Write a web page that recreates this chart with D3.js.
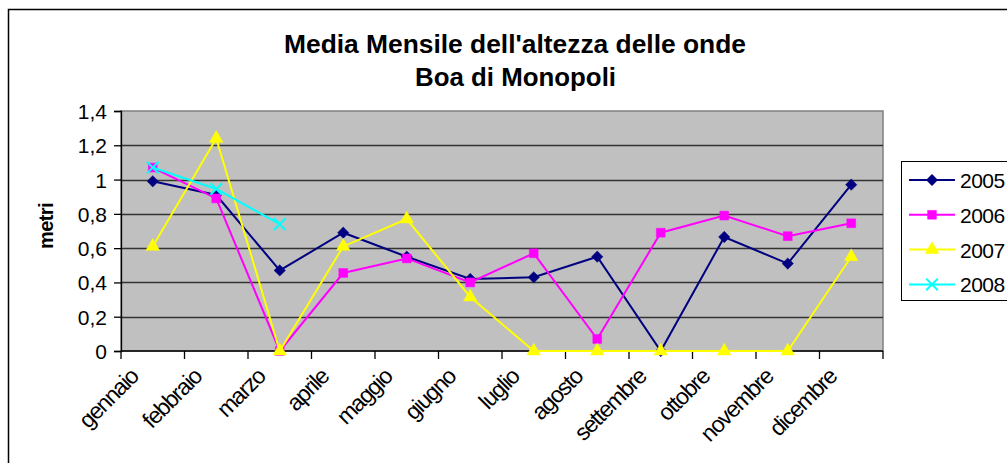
<!DOCTYPE html>
<html>
<head>
<meta charset="utf-8">
<script src="https://d3js.org/d3.v7.min.js"></script>
<style>
  body { margin: 0; background: #fff; }
  svg { display: block; }
</style>
</head>
<body>
<div id="chart"></div>
<script>
// MEDIA MENSILE ALTEZZA ONDE - BOA DI MONOPOLI

var months = ["gennaio", "febbraio", "marzo", "aprile", "maggio", "giugno",
    "luglio", "agosto", "settembre", "ottobre", "novembre", "dicembre"];

var years = ["2005", "2006", "2007", "2008"];

var values2005 = [0.99, 0.91, 0.47, 0.69, 0.55, 0.42, 0.43, 0.55, 0, 0.665, 0.51, 0.97];
var values2006 = [1.07, 0.89, 0, 0.455, 0.54, 0.40, 0.57, 0.07, 0.69, 0.79, 0.67, 0.745];
var values2007 = [0.61, 1.24, 0, 0.61, 0.77, 0.315, 0, 0, 0, 0, 0, 0.55];
var values2008 = [1.07, 0.945, 0.74, null, null, null, null, null, null, null, null, null];

var yTicks = [0, 0.2, 0.4, 0.6, 0.8, 1, 1.2, 1.4];

function linechart() {
    var width = 1007,
        height = 463;

    var plot = { left: 121, right: 883, top: 111, bottom: 351 };

    var svg = d3.select("#chart").append("svg")
        .attr("width", width)
        .attr("height", height)
        .style("font-family", "'Liberation Sans', Arial, sans-serif");

    // outer frame
    svg.append("rect")
        .attr("x", 8.5)
        .attr("y", 9.5)
        .attr("width", 1020)
        .attr("height", 470)
        .attr("fill", "white")
        .attr("stroke", "black")
        .attr("stroke-width", 1.5);

    var series = [
        { name: years[0], values: values2005, color: "#000080", symbol: "diamond" },
        { name: years[1], values: values2006, color: "#FF00FF", symbol: "square" },
        { name: years[2], values: values2007, color: "#FFFF00", symbol: "triangle" },
        { name: years[3], values: values2008, color: "#00FFFF", symbol: "cross" }
    ];

    var x = d3.scaleBand()
        .domain(months)
        .range([plot.left, plot.right]);

    var y = d3.scaleLinear()
        .domain([0, 1.4])
        .range([plot.bottom, plot.top]);

    // plot area
    svg.append("rect")
        .attr("x", plot.left)
        .attr("y", plot.top)
        .attr("width", plot.right - plot.left)
        .attr("height", plot.bottom - plot.top)
        .attr("fill", "#C0C0C0")
        .attr("stroke", "#808080")
        .attr("stroke-width", 1.5);

    // gridlines
    svg.append("g")
        .selectAll("line")
        .data(yTicks.filter(d => d > 0 && d < 1.4))
        .enter().append("line")
        .attr("x1", plot.left)
        .attr("x2", plot.right)
        .attr("y1", d => Math.round(y(d)) + 0.5)
        .attr("y2", d => Math.round(y(d)) + 0.5)
        .attr("stroke", "#333")
        .attr("stroke-width", 1.3);

    // y axis
    var yAxis = d3.axisLeft(y)
        .tickValues(yTicks)
        .tickSize(7)
        .tickPadding(7)
        .tickFormat(d => String(+d.toFixed(1)).replace(".", ","));

    svg.append("g")
        .attr("class", "y axis")
        .attr("transform", "translate(" + plot.left + ",0)")
        .call(yAxis)
        .call(g => g.selectAll("text").style("font-size", "21px").attr("fill", "black").attr("dy", "0.36em"))
        .call(g => g.selectAll("line,path").attr("stroke", "black").attr("stroke-width", 1.3));

    // x axis with ticks between categories
    var xg = svg.append("g")
        .attr("class", "x axis")
        .attr("transform", "translate(0," + plot.bottom + ")");

    xg.append("line")
        .attr("x1", plot.left)
        .attr("x2", plot.right)
        .attr("stroke", "black")
        .attr("stroke-width", 1.5);

    xg.selectAll("line.tick")
        .data(months.concat(["end"]))
        .enter().append("line")
        .attr("class", "tick")
        .attr("x1", (d, i) => i < months.length ? x(d) : plot.right)
        .attr("x2", (d, i) => i < months.length ? x(d) : plot.right)
        .attr("y1", 0)
        .attr("y2", 8)
        .attr("stroke", "black")
        .attr("stroke-width", 1.3);

    xg.selectAll("text")
        .data(months)
        .enter().append("text")
        .attr("text-anchor", "end")
        .attr("transform", d => "translate(" + (x(d) + x.bandwidth() / 2 - 13) + ",27) rotate(-45)")
        .style("font-size", "23px")
        .style("letter-spacing", "-1.3px")
        .attr("fill", "black")
        .text(d => d);

    // lines and markers
    var symbolFor = {
        diamond: d3.symbol().type(d3.symbolSquare).size(64),
        square: d3.symbol().type(d3.symbolSquare).size(78),
        triangle: d3.symbol().type(d3.symbolTriangle).size(80),
        cross: d3.symbol().type(d3.symbolX).size(90)
    };
    var rotateFor = { diamond: 45, square: 0, triangle: 0, cross: 0 };

    var line = d3.line()
        .defined(d => d != null)
        .x((d, i) => x(months[i]) + x.bandwidth() / 2)
        .y(d => y(d));

    series.forEach(function(s) {
        var g = svg.append("g");
        g.append("path")
            .datum(s.values)
            .attr("fill", "none")
            .attr("stroke", s.color)
            .attr("stroke-width", 2)
            .attr("d", line);

        g.selectAll("path.marker")
            .data(s.values.map((v, i) => ({ v: v, m: months[i] })).filter(d => d.v != null))
            .enter().append("path")
            .attr("class", "marker")
            .attr("transform", d => "translate(" + (x(d.m) + x.bandwidth() / 2) + "," + y(d.v) + ") rotate(" + rotateFor[s.symbol] + ")")
            .attr("d", symbolFor[s.symbol])
            .attr("fill", s.symbol == "cross" ? "none" : s.color)
            .attr("stroke", s.color)
            .attr("stroke-width", s.symbol == "cross" ? 2 : 0.5);
    });

    // title
    svg.append("text")
        .attr("x", 515)
        .attr("y", 53)
        .attr("text-anchor", "middle")
        .style("font-size", "26px")
        .style("font-weight", "bold")
        .attr("textLength", 462)
        .attr("lengthAdjust", "spacingAndGlyphs")
        .text("Media Mensile dell'altezza delle onde");

    svg.append("text")
        .attr("x", 515.5)
        .attr("y", 86)
        .attr("text-anchor", "middle")
        .style("font-size", "26px")
        .style("font-weight", "bold")
        .attr("textLength", 201)
        .attr("lengthAdjust", "spacingAndGlyphs")
        .text("Boa di Monopoli");

    // y label
    svg.append("text")
        .attr("transform", "translate(53,226) rotate(-90)")
        .attr("text-anchor", "middle")
        .style("font-size", "20px")
        .style("font-weight", "bold")
        .style("letter-spacing", "-0.6px")
        .text("metri");

    // legend
    var legend = svg.append("g");
    legend.append("rect")
        .attr("x", 901.5)
        .attr("y", 161.5)
        .attr("width", 120)
        .attr("height", 139)
        .attr("fill", "white")
        .attr("stroke", "black")
        .attr("stroke-width", 1);

    var item = legend.selectAll("g.item")
        .data(series)
        .enter().append("g")
        .attr("class", "item")
        .attr("transform", (d, i) => "translate(0," + (180 + i * 34.8) + ")");

    item.append("line")
        .attr("x1", 909)
        .attr("x2", 955)
        .attr("stroke", d => d.color)
        .attr("stroke-width", 2);

    item.append("path")
        .attr("transform", d => "translate(932,0) rotate(" + rotateFor[d.symbol] + ")")
        .attr("d", d => symbolFor[d.symbol]())
        .attr("fill", d => d.symbol == "cross" ? "none" : d.color)
        .attr("stroke", d => d.color)
        .attr("stroke-width", d => d.symbol == "cross" ? 2 : 0.5);

    item.append("text")
        .attr("x", 960)
        .attr("y", 8)
        .style("font-size", "21px")
        .style("letter-spacing", "-0.5px")
        .text(d => d.name);
}
linechart();
</script>
</body>
</html>
